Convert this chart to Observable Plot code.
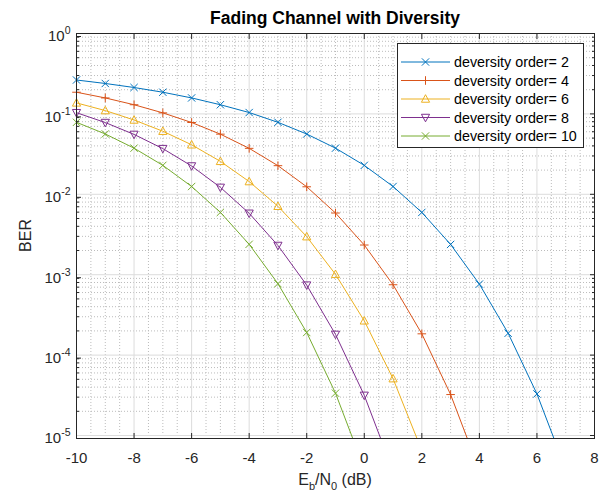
<!DOCTYPE html>
<html>
<head>
<meta charset="utf-8">
<script src="https://cdn.jsdelivr.net/npm/d3@7"></script>
<script src="https://cdn.jsdelivr.net/npm/@observablehq/plot@0.6"></script>
<style>
  html, body { margin: 0; padding: 0; background: #ffffff; }
  #chart svg { display: block; }
</style>
</head>
<body>
<div id="chart"></div>
<script>
// ---------- data ----------
const titleText = "Fading Channel with Diversity";
const yLabelText = "BER";
const seriesNames = ["deversity order= 2", "deversity order= 4", "deversity order= 6", "deversity order= 8", "deversity order= 10"];
const seriesColors = ["#0072BD", "#D95319", "#EDB120", "#7E2F8E", "#77AC30"];
const seriesMarkers = ["times", "plus", "triangleUp", "triangleDown", "times"];

const ebn0 = [-10, -9, -8, -7, -6, -5, -4, -3, -2, -1, 0, 1, 2, 3, 4, 5, 6, 7];
const ber2  = [0.264, 0.239, 0.213, 0.186, 0.158, 0.130, 0.104, 0.0786, 0.0562, 0.0375, 0.0229, 0.0125, 0.00595, 0.00238, 7.64e-4, 1.87e-4, 3.29e-5, 3.8e-6];
const ber4  = [0.186, 0.158, 0.130, 0.103, 0.0782, 0.0560, 0.0373, 0.0227, 0.0124, 0.00585, 0.00234, 7.5e-4, 1.84e-4, 3.23e-5, 3.7e-6];
const ber6  = [0.137, 0.110, 0.0840, 0.0609, 0.0413, 0.0257, 0.0144, 0.00710, 0.00297, 0.00101, 2.67e-4, 5.09e-5, 6.5e-6];
const ber8  = [0.1035, 0.0781, 0.0556, 0.0370, 0.0225, 0.0122, 0.00581, 0.00231, 7.42e-4, 1.81e-4, 3.16e-5, 3.6e-6];
const ber10 = [0.0786, 0.0563, 0.0375, 0.0229, 0.0125, 0.00596, 0.00239, 7.73e-4, 1.91e-4, 3.36e-5, 3.87e-6];
const seriesValues = [ber2, ber4, ber6, ber8, ber10];

const xTicks = [-10, -8, -6, -4, -2, 0, 2, 4, 6, 8];
const xMinorStep = 0.5;
const yTicks = [1, 1e-1, 1e-2, 1e-3, 1e-4, 1e-5];
const yMinorMultipliers = [2, 3, 4, 5, 6, 7, 8, 9];
const xDomain = [-10, 8];
const yDomain = [9.18e-6, 1];

// ---------- derived tick sets ----------
const xMinor = d3.range(xDomain[0], xDomain[1] + 1e-9, xMinorStep).filter(v => !xTicks.includes(v));
const yMinor = [];
for (const d of [1e-6, 1e-5, 1e-4, 1e-3, 1e-2, 1e-1]) for (const m of yMinorMultipliers) {
  const v = m * d; if (v >= yDomain[0] && v <= yDomain[1]) yMinor.push(v);
}

// ---------- marker shapes ----------
const symbols = {
  times: { draw(ctx, size) { const r = Math.sqrt(size / Math.PI) * 0.85; ctx.moveTo(-r, -r); ctx.lineTo(r, r); ctx.moveTo(-r, r); ctx.lineTo(r, -r); } },
  plus: { draw(ctx, size) { const r = Math.sqrt(size / Math.PI) * 1.0; ctx.moveTo(-r, 0); ctx.lineTo(r, 0); ctx.moveTo(0, -r); ctx.lineTo(0, r); } },
  triangleUp: { draw(ctx, size) { const r = Math.sqrt(size / Math.PI); ctx.moveTo(0, -r); ctx.lineTo(r * 0.95, r * 0.75); ctx.lineTo(-r * 0.95, r * 0.75); ctx.closePath(); } },
  triangleDown: { draw(ctx, size) { const r = Math.sqrt(size / Math.PI); ctx.moveTo(0, r); ctx.lineTo(r * 0.95, -r * 0.75); ctx.lineTo(-r * 0.95, -r * 0.75); ctx.closePath(); } }
};

// ---------- table ----------
const rows = [];
seriesValues.forEach((vals, si) => vals.forEach((v, i) => rows.push({ series: seriesNames[si], x: ebn0[i], ber: v, si })));

const axisColor = "#262626";
const fontFamily = '"Liberation Sans", Arial, Helvetica, sans-serif';
const W = 609, H = 495, mL = 76, mR = 15, mT = 33, mB = 57;
const markerR = 4.3;

const marks = [
  Plot.gridX({ ticks: xMinor, stroke: "#bcbcbc", strokeOpacity: 1, strokeDasharray: "1,2", strokeWidth: 1 }),
  Plot.gridY({ ticks: yMinor, stroke: "#bcbcbc", strokeOpacity: 1, strokeDasharray: "1,2", strokeWidth: 1 }),
  Plot.gridX({ ticks: xTicks, stroke: "#dcdcdc", strokeOpacity: 1, strokeWidth: 1 }),
  Plot.gridY({ ticks: yTicks, stroke: "#dcdcdc", strokeOpacity: 1, strokeWidth: 1 })
];
seriesNames.forEach((name, si) => {
  const d = rows.filter(r => r.si === si);
  const visible = d.filter(r => r.ber >= yDomain[0] && r.ber <= yDomain[1]);
  marks.push(Plot.line(d, { x: "x", y: "ber", stroke: seriesColors[si], strokeWidth: 1, clip: true }));
  marks.push(Plot.dot(visible, { x: "x", y: "ber", r: markerR, symbol: symbols[seriesMarkers[si]], stroke: seriesColors[si], fill: "none", strokeWidth: 1 }));
});
marks.push(
  Plot.frame({ stroke: axisColor, strokeWidth: 1 }),
  Plot.axisX({ anchor: "bottom", ticks: xTicks, tickSize: -5, tickPadding: 19, label: null, stroke: axisColor,
    tickFormat: d => (d < 0 ? "-" + Math.abs(d) : String(d)) }),
  Plot.axisX({ anchor: "top", ticks: xTicks, tickSize: -5, label: null, tickFormat: () => "", stroke: axisColor }),
  Plot.axisY({ anchor: "left", ticks: yTicks, tickSize: -5, tickPadding: 11, label: null, stroke: axisColor, dy: 3,
    tickFormat: d => "10^" + Math.round(Math.log10(d)) }),
  Plot.axisY({ anchor: "right", ticks: yTicks, tickSize: -5, label: null, tickFormat: () => "", stroke: axisColor }),
  Plot.axisY({ anchor: "left", ticks: yMinor, tickSize: -3, label: null, tickFormat: () => "", stroke: axisColor }),
  Plot.axisY({ anchor: "right", ticks: yMinor, tickSize: -3, label: null, tickFormat: () => "", stroke: axisColor })
);

const svg = Plot.plot({
  width: W, height: H,
  marginLeft: mL, marginRight: mR, marginTop: mT, marginBottom: mB,
  x: { domain: xDomain },
  y: { type: "log", domain: yDomain },
  style: { fontFamily, fontSize: "15px", color: axisColor, background: "#ffffff", overflow: "visible" },
  marks
});
document.getElementById("chart").appendChild(svg);

// ---------- superscript exponents on y tick labels ----------
d3.select(svg).selectAll('g[aria-label="y-axis tick label"] text').each(function () {
  const t = this.textContent;
  const m = /^10\^(.*)$/.exec(t);
  if (!m) return;
  const el = d3.select(this);
  el.text(null);
  el.append("tspan").text("10");
  el.append("tspan").attr("dy", "-7").attr("font-size", "10.5px").text(m[1].replace("−", "-"));
});

const root = d3.select(svg);
const cx = mL + (W - mL - mR) / 2;

// title
root.append("text").attr("x", cx).attr("y", 24).attr("text-anchor", "middle")
  .attr("font-family", fontFamily).attr("font-size", "17.5px").attr("font-weight", "bold").attr("fill", "#000")
  .text(titleText);

// x label: E_b/N_0 (dB)
const xl = root.append("text").attr("x", cx).attr("y", 485).attr("text-anchor", "middle")
  .attr("font-family", fontFamily).attr("font-size", "16px").attr("fill", axisColor);
xl.append("tspan").text("E");
xl.append("tspan").attr("dy", 5).attr("font-size", "11px").text("b");
xl.append("tspan").attr("dy", -5).text("/N");
xl.append("tspan").attr("dy", 5).attr("font-size", "11px").text("0");
xl.append("tspan").attr("dy", -5).text(" (dB)");

// y label
root.append("text").attr("transform", `translate(25,${mT + (H - mT - mB) / 2}) rotate(-90)`)
  .attr("text-anchor", "middle").attr("dy", "0.35em")
  .attr("font-family", fontFamily).attr("font-size", "16px").attr("fill", axisColor)
  .text(yLabelText);

// legend
const lg = root.append("g");
const lx = 397, ly = 43, lw = 186, lh = 104;
lg.append("rect").attr("x", lx + 0.5).attr("y", ly + 0.5).attr("width", lw).attr("height", lh)
  .attr("fill", "#ffffff").attr("stroke", axisColor).attr("stroke-width", 1);
seriesNames.forEach((name, i) => {
  const yy = ly + 19 + i * 18.5;
  lg.append("line").attr("x1", lx + 4).attr("x2", lx + 53).attr("y1", yy).attr("y2", yy)
    .attr("stroke", seriesColors[i]).attr("stroke-width", 1);
  lg.append("path").attr("transform", `translate(${lx + 28.5},${yy})`)
    .attr("d", d3.symbol(symbols[seriesMarkers[i]], Math.PI * markerR * markerR)())
    .attr("fill", "none").attr("stroke", seriesColors[i]).attr("stroke-width", 1);
  lg.append("text").attr("x", lx + 57).attr("y", yy).attr("dy", "0.35em").attr("text-anchor", "start")
    .attr("font-family", fontFamily).attr("font-size", "14.3px").attr("fill", "#000").text(name);
});
</script>
</body>
</html>
